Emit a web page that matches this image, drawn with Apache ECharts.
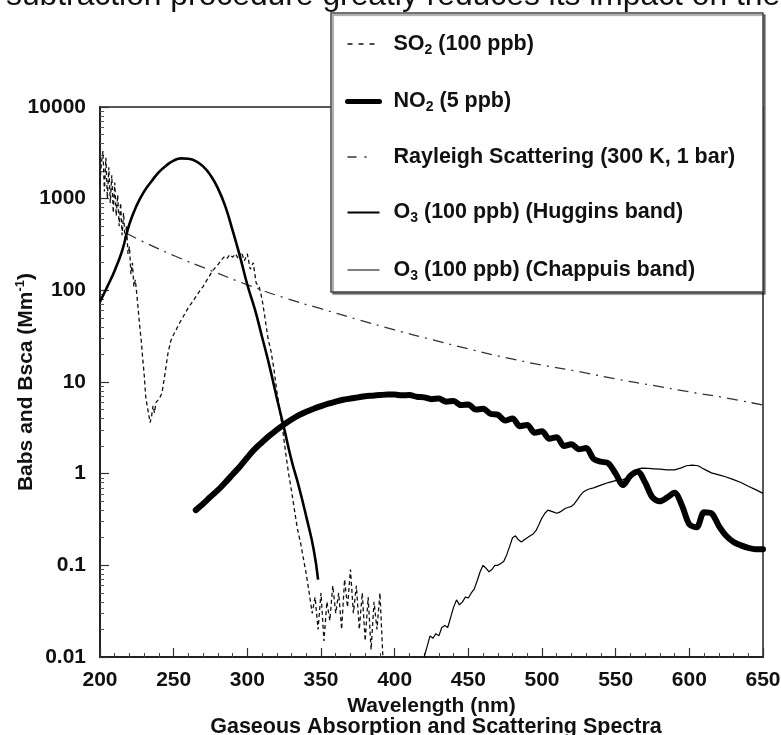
<!DOCTYPE html>
<html><head><meta charset="utf-8">
<script src="https://cdn.jsdelivr.net/npm/echarts@6/dist/echarts.min.js"></script>
<style>html,body{margin:0;padding:0;background:#fff}#c{width:781px;height:735px}</style>
</head><body><div id="c"></div>
<script>
// ---- data (wavelength nm, coefficient Mm^-1) ----
const xTickLabels = ['200','250','300','350','400','450','500','550','600','650'];
const yTickLabels = ['0.01','0.1','1','10','100','1000','10000'];
const yMinorTicks = [0.02,0.03,0.04,0.05,0.06,0.07,0.08,0.09,0.2,0.3,0.4,0.5,0.6,0.7,0.8,0.9,2,3,4,5,6,7,8,9,20,30,40,50,60,70,80,90,200,300,400,500,600,700,800,900,2000,3000,4000,5000,6000,7000,8000,9000];

const so2 = [[200,1500],[201,2500],[202,3300],[203,1200],[204,2800],[205,1000],[206,2200],[207,900],[208,1800],[209,700],[210,1500],[211,650],[212,1100],[213,500],[214,900],[215,400],[216,700],[217,350],[218,500],[219,250],[220,300],[221,150],[222,200],[223,110],[224,130],[225,90],[226,60],[227,40],[228,28],[229,18],[230,12],[231,7],[232,5.5],[233,4.5],[234,3.6],[235,4.2],[236,5.5],[237,4.6],[238,6],[240,6.5],[242,7.5],[244,12],[246,20],[248,28],[250,33],[252,38],[254,44],[256,50],[258,57],[260,65],[262,72],[264,80],[266,90],[268,100],[270,110],[272,125],[274,140],[276,160],[278,175],[280,190],[282,210],[284,230],[286,220],[288,245],[290,230],[292,250],[294,220],[296,260],[298,210],[300,250],[302,170],[304,200],[306,120],[308,110],[310,80],[312,50],[314,30],[316,22],[318,14],[320,8],[322,5],[324,3],[326,1.7],[328,1.0],[330,0.65],[332,0.4],[334,0.25],[336,0.18],[338,0.12],[340,0.08],[342,0.05],[344,0.03],[346,0.045],[348,0.02],[350,0.05],[352,0.015],[354,0.04],[356,0.025],[358,0.06],[360,0.03],[362,0.05],[364,0.02],[366,0.07],[368,0.035],[370,0.09],[372,0.03],[374,0.06],[376,0.02],[378,0.05],[380,0.015],[382,0.045],[384,0.012],[386,0.04],[388,0.02],[390,0.05],[392,0.01]];

const no2 = [[265,0.40],[270,0.47],[275,0.56],[280,0.66],[285,0.80],[290,0.98],[295,1.2],[300,1.5],[305,1.85],[310,2.2],[315,2.6],[320,3.0],[325,3.45],[330,3.9],[335,4.35],[340,4.75],[345,5.1],[350,5.45],[355,5.8],[360,6.1],[365,6.4],[370,6.6],[375,6.8],[380,7.0],[385,7.1],[390,7.2],[395,7.3],[400,7.3],[405,7.15],[410,7.2],[415,6.9],[420,6.8],[425,6.5],[430,6.6],[435,6.1],[440,6.2],[445,5.6],[450,5.7],[455,5.0],[460,5.1],[465,4.5],[470,4.4],[475,3.8],[480,4.0],[485,3.3],[490,3.4],[495,2.8],[500,2.9],[505,2.4],[510,2.5],[515,2.0],[520,2.1],[525,1.85],[530,1.9],[535,1.45],[540,1.35],[545,1.3],[550,1.0],[555,0.75],[560,0.95],[565,1.05],[570,0.8],[575,0.55],[580,0.5],[585,0.55],[590,0.62],[595,0.45],[600,0.28],[605,0.26],[610,0.38],[615,0.37],[620,0.27],[625,0.21],[630,0.18],[635,0.165],[640,0.155],[645,0.15],[650,0.15]];

const rayleigh = [[218,420],[230,335],[250,240],[275,165],[300,115],[325,83],[350,63],[375,48],[400,37],[425,29],[450,23],[475,18.5],[500,15.3],[525,13],[550,10.8],[575,9.2],[600,7.8],[625,6.7],[650,5.6]];

const o3Huggins = [[200,75],[205,110],[210,165],[215,270],[220,530],[225,850],[230,1200],[235,1550],[240,1950],[245,2300],[250,2600],[255,2750],[260,2720],[265,2570],[270,2250],[275,1800],[280,1300],[285,830],[290,450],[295,235],[300,115],[305,63],[310,31],[315,15],[320,6.7],[325,3.1],[330,1.4],[335,0.72],[340,0.34],[345,0.15],[348,0.07]];

const o3Chappuis = [[420,0.01],[422,0.013],[424,0.017],[426,0.016],[428,0.018],[430,0.017],[432,0.021],[434,0.022],[436,0.021],[438,0.027],[440,0.035],[442,0.042],[444,0.037],[446,0.04],[448,0.045],[450,0.044],[452,0.05],[454,0.055],[456,0.068],[458,0.085],[460,0.1],[462,0.093],[464,0.085],[466,0.09],[468,0.1],[470,0.1],[472,0.105],[474,0.11],[476,0.13],[478,0.16],[480,0.2],[482,0.21],[484,0.19],[486,0.18],[488,0.19],[490,0.2],[492,0.21],[494,0.22],[496,0.24],[498,0.28],[500,0.33],[502,0.37],[504,0.4],[506,0.39],[508,0.38],[510,0.37],[512,0.38],[514,0.4],[516,0.42],[518,0.43],[520,0.44],[522,0.47],[524,0.52],[526,0.58],[528,0.63],[530,0.66],[532,0.68],[535,0.7],[540,0.75],[545,0.8],[550,0.84],[555,0.86],[558,0.9],[562,1.05],[565,1.12],[568,1.15],[572,1.14],[576,1.13],[580,1.12],[585,1.1],[590,1.1],[594,1.15],[598,1.22],[602,1.24],[606,1.22],[610,1.12],[615,1.02],[620,0.97],[625,0.92],[630,0.86],[635,0.8],[640,0.73],[645,0.67],[650,0.61]];

const seriesNames = ['SO2 (100 ppb)','NO2 (5 ppb)','Rayleigh Scattering (300 K, 1 bar)','O3 (100 ppb) (Huggins band)','O3 (100 ppb) (Chappuis band)'];
const legendRich = {
  'SO2 (100 ppb)': '{b|SO}{s|2}{b| (100 ppb)}',
  'NO2 (5 ppb)': '{b|NO}{s|2}{b| (5 ppb)}',
  'Rayleigh Scattering (300 K, 1 bar)': '{b|Rayleigh Scattering (300 K, 1 bar)}',
  'O3 (100 ppb) (Huggins band)': '{b|O}{s|3}{b| (100 ppb) (Huggins band)}',
  'O3 (100 ppb) (Chappuis band)': '{b|O}{s|3}{b| (100 ppb) (Chappuis band)}'
};
const topLine = 'subtraction procedure greatly reduces its impact on the';

const FONT = 'Liberation Sans, Arial, Helvetica, sans-serif';
const lineStyles = [
  { color: '#111', width: 1.3, type: [4, 3] },
  { color: '#000', width: 6, cap: 'round', join: 'round' },
  { color: '#333', width: 1.3, type: [11, 6, 2, 6] },
  { color: '#000', width: 2.6 },
  { color: '#000', width: 1.2 }
];
const legendLineStyles = [
  { color: '#111', width: 1.3, type: [5, 6] },
  { color: '#000', width: 5 },
  { color: '#333', width: 1.3, type: [9, 8, 2, 20] },
  { color: '#000', width: 2.2 },
  { color: '#000', width: 1.1 }
];
const chart = echarts.init(document.getElementById('c'));
chart.setOption({
  backgroundColor: '#fff',
  animation: false,
  textStyle: { fontFamily: FONT },
  grid: { left: 100, top: 107, width: 663, height: 550, containLabel: false, outerBoundsMode: 'none',
    show: true, borderColor: '#222', borderWidth: 1.5, backgroundColor: 'transparent' },
  title: {
    text: 'Gaseous Absorption and Scattering Spectra',
    left: 431, top: 711, textAlign: 'center',
    textStyle: { fontFamily: FONT, fontSize: 21.5, fontWeight: 'bold', color: '#111' }
  },
  graphic: [
    { type: 'text', left: 6, top: -20, z: 10,
      style: { text: topLine, fontFamily: FONT, fontSize: 31.8, fill: '#111' } },
    { type: 'rect', z: 3, shape: { x: 331, y: 13, width: 432, height: 279 },
      style: { fill: '#fff', stroke: '#444', lineWidth: 1.5, shadowColor: 'rgba(0,0,0,0.45)', shadowOffsetX: 2, shadowOffsetY: 2, shadowBlur: 1 } }
  ],
  legend: {
    orient: 'vertical', left: 340, top: 26, z: 5,
    itemWidth: 32, itemHeight: 14, itemGap: 31.5,
    selectedMode: false,
    itemStyle: { opacity: 0 },
    data: seriesNames.map((n, i) => ({ name: n, lineStyle: legendLineStyles[i], itemStyle: { opacity: 0 } })),
    formatter: n => legendRich[n],
    textStyle: {
      color: '#111', padding: [0, 0, 0, 9],
      rich: {
        b: { fontFamily: FONT, fontSize: 21.5, fontWeight: 'bold', color: '#111', lineHeight: 22 },
        s: { fontFamily: FONT, fontSize: 14, fontWeight: 'bold', color: '#111', lineHeight: 14, padding: [12, 0, 0, 0] }
      }
    }
  },
  xAxis: {
    type: 'value', min: 200, max: 650, interval: 50,
    name: 'Wavelength (nm)', nameLocation: 'middle', nameGap: 36,
    nameTextStyle: { fontFamily: FONT, fontSize: 21, fontWeight: 'bold', color: '#111' },
    axisLine: { lineStyle: { color: '#222', width: 2 } },
    axisTick: { inside: true, length: 9, lineStyle: { color: '#333', width: 1.2 } },
    minorTick: { show: true, splitNumber: 5, length: 4, lineStyle: { color: '#444', width: 1 } },
    splitLine: { show: false },
    axisLabel: { margin: 13, fontFamily: FONT, fontSize: 21, fontWeight: 'bold', color: '#111',
      formatter: (v) => xTickLabels[Math.round((v - 200) / 50)] }
  },
  yAxis: [{
    type: 'log', logBase: 10, min: 0.01, max: 10000,
    name: '{b|Babs and Bsca (Mm}{sup|-1}{b|)}', nameLocation: 'middle', nameGap: 62, nameRotate: 90,
    nameMoveOverlap: false,
    nameTextStyle: { rich: {
      b: { fontFamily: FONT, fontSize: 21, fontWeight: 'bold', color: '#111', lineHeight: 24 },
      sup: { fontFamily: FONT, fontSize: 13, fontWeight: 'bold', color: '#111', lineHeight: 13, padding: [0, 0, 11, 0] }
    } },
    axisLine: { lineStyle: { color: '#222', width: 2 } },
    axisTick: { inside: true, length: 9, lineStyle: { color: '#333', width: 1.2 } },
    splitLine: { show: false },
    axisLabel: { margin: 14, fontFamily: FONT, fontSize: 21, fontWeight: 'bold', color: '#111',
      formatter: (v) => yTickLabels[Math.round(Math.log10(v)) + 2] }
  }, {
    type: 'log', logBase: 10, min: 0.01, max: 10000, position: 'left',
    axisLine: { show: false }, axisLabel: { show: false }, splitLine: { show: false },
    axisTick: { inside: true, length: 4, customValues: yMinorTicks, lineStyle: { color: '#555', width: 1 } }
  }],
  series: [
    { name: seriesNames[0], type: 'line', data: so2, symbol: 'none', clip: true, lineStyle: lineStyles[0] },
    { name: seriesNames[1], type: 'line', data: no2, symbol: 'none', smooth: 0.3, clip: true, lineStyle: lineStyles[1] },
    { name: seriesNames[2], type: 'line', data: rayleigh, symbol: 'none', smooth: true, clip: true, lineStyle: lineStyles[2] },
    { name: seriesNames[3], type: 'line', data: o3Huggins, symbol: 'none', smooth: true, clip: true, lineStyle: lineStyles[3] },
    { name: seriesNames[4], type: 'line', data: o3Chappuis, symbol: 'none', clip: true, lineStyle: lineStyles[4] }
  ]
});
</script>
</body></html>
